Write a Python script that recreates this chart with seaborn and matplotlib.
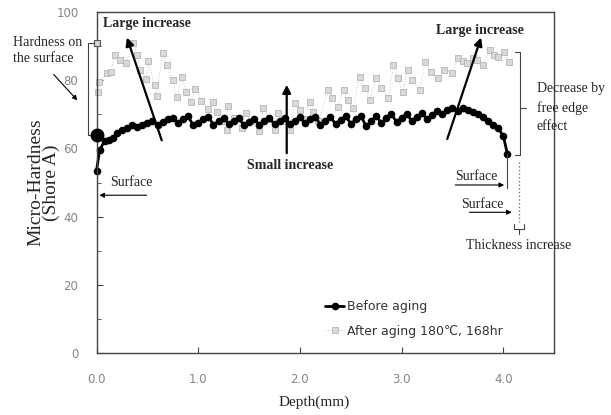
import numpy as np
import pandas as pd
import matplotlib.pyplot as plt
import seaborn as sns

# micro-hardness profile across the sheet thickness

# before aging: depth (mm) / hardness (Shore A)
before_depth = [0.00, 0.03, 0.08, 0.12, 0.16, 0.20, 0.25, 0.30, 0.35, 0.40,
                0.45, 0.50, 0.55, 0.60, 0.65, 0.70, 0.75, 0.80, 0.85, 0.90,
                0.95, 1.00, 1.05, 1.10, 1.15, 1.20, 1.25, 1.30, 1.35, 1.40,
                1.45, 1.50, 1.55, 1.60, 1.65, 1.70, 1.75, 1.80, 1.85, 1.90,
                1.95, 2.00, 2.05, 2.10, 2.15, 2.20, 2.25, 2.30, 2.35, 2.40,
                2.45, 2.50, 2.55, 2.60, 2.65, 2.70, 2.75, 2.80, 2.85, 2.90,
                2.95, 3.00, 3.05, 3.10, 3.15, 3.20, 3.25, 3.30, 3.35, 3.40,
                3.45, 3.50, 3.55, 3.60, 3.65, 3.70, 3.75, 3.80, 3.85, 3.90,
                3.95, 4.00, 4.04]
before_hard = [53.5, 59.5, 62.3, 62.6, 63.2, 64.5, 65.4, 66.0, 66.8, 66.2,
               67.0, 67.6, 68.0, 67.0, 67.8, 68.5, 69.0, 67.5, 68.5, 69.5,
               66.8, 67.5, 68.5, 69.2, 67.0, 68.0, 69.0, 67.2, 68.0, 68.8,
               66.8, 67.8, 68.6, 67.0, 68.0, 68.8, 67.2, 68.2, 69.0, 67.3,
               68.2, 69.2, 67.5, 68.5, 69.3, 67.0, 68.0, 69.2, 67.2, 68.4,
               69.5, 67.3, 68.5, 69.6, 66.5, 68.0, 69.5, 67.5, 68.8, 70.0,
               67.8, 69.0, 70.2, 68.0, 69.3, 70.5, 68.5, 69.8, 71.0, 70.0,
               71.3, 71.8, 71.0, 71.8, 71.2, 70.8, 70.2, 69.3, 68.2, 67.0,
               66.0, 63.6, 58.5]

# after aging 180C / 168hr
after_depth = [0.01, 0.02, 0.10, 0.14, 0.18, 0.23, 0.29, 0.36, 0.40, 0.43,
               0.49, 0.51, 0.57, 0.59, 0.65, 0.69, 0.75, 0.79, 0.84, 0.88,
               0.93, 0.97, 1.03, 1.10, 1.15, 1.18, 1.22, 1.28, 1.29, 1.35,
               1.43, 1.47, 1.52, 1.60, 1.64, 1.70, 1.75, 1.78, 1.85, 1.90,
               1.95, 2.00, 2.04, 2.10, 2.13, 2.18, 2.28, 2.32, 2.37, 2.43,
               2.47, 2.52, 2.59, 2.64, 2.69, 2.75, 2.80, 2.87, 2.92, 2.96,
               3.01, 3.06, 3.10, 3.18, 3.23, 3.29, 3.36, 3.42, 3.50, 3.55,
               3.60, 3.64, 3.70, 3.74, 3.80, 3.87, 3.91, 3.95, 4.01, 4.06]
after_hard = [76.5, 79.5, 82.0, 82.5, 87.5, 86.0, 85.0, 91.0, 87.5, 83.0,
              80.5, 85.5, 78.5, 75.5, 88.0, 84.5, 80.0, 75.0, 81.0, 76.5,
              73.5, 77.5, 74.0, 71.5, 73.5, 70.8, 68.0, 65.5, 72.5, 69.0,
              66.0, 70.5, 68.0, 65.0, 71.8, 68.5, 65.5, 70.5, 68.0, 65.5,
              73.3, 71.3, 68.5, 73.7, 70.8, 68.0, 77.0, 74.8, 72.2, 77.0,
              74.2, 71.8, 81.0, 77.7, 74.2, 80.6, 77.7, 74.8, 84.5, 80.6,
              76.6, 83.0, 80.0, 77.1, 85.4, 82.5, 80.6, 83.0, 82.1, 86.5,
              85.5, 85.0, 86.5, 85.9, 84.5, 88.9, 87.5, 86.9, 88.4, 85.4]

# hardness right on the surface (before, after)
surface_hard = [64.0, 91.0]

x_ticks = [0, 1, 2, 3, 4]
x_ticklabels = ['0.0', '1.0', '2.0', '3.0', '4.0']
y_ticks = [0, 20, 40, 60, 80, 100]

sns.set_style('ticks')
plt.rcParams['font.family'] = ['DejaVu Sans']
serif = 'Liberation Serif'

fig, ax = plt.subplots(figsize=(6.11, 4.15), dpi=100)
fig.subplots_adjust(left=0.158, right=0.907, bottom=0.149, top=0.971)

sns.lineplot(x=after_depth, y=after_hard, ax=ax, estimator=None, sort=False,
             color='#cccccc', linestyle=':', lw=0.7, marker='s', markersize=4,
             markerfacecolor='#d9d9d9', markeredgecolor='#ababab',
             markeredgewidth=0.5, clip_on=False, label='After aging 180℃, 168hr')
sns.lineplot(x=before_depth, y=before_hard, ax=ax, estimator=None, sort=False,
             color='black', lw=2, marker='o', markersize=5.5,
             markeredgewidth=0, clip_on=False, label='Before aging')

# surface points
ax.plot(0, surface_hard[0], 'o', color='black', ms=9, clip_on=False, zorder=5)
ax.plot(0, surface_hard[1], 's', ms=5, mfc='#d5d5d5', mec='#555555', mew=0.8,
        clip_on=False, zorder=5)

ax.set_xlim(0, 4.5)
ax.set_ylim(0, 100)
ax.set_xticks(x_ticks)
ax.set_xticklabels(x_ticklabels)
ax.set_yticks(y_ticks)
ax.set_yticks([10, 30, 50, 70, 90], minor=True)
ax.tick_params(which='both', direction='in', color='#444444', labelcolor='#858585',
               labelsize=8.5)
ax.tick_params(which='major', length=4)
ax.tick_params(which='minor', length=3)
ax.tick_params(axis='y', pad=13)
ax.tick_params(axis='x', pad=14)
for sp in ax.spines.values():
    sp.set_visible(True)
    sp.set_color('#444444')
    sp.set_linewidth(1)

ax.set_xlabel('Depth(mm)', family=serif, fontsize=11)
ax.xaxis.set_label_coords(0.475, -0.125)
ax.set_ylabel('Micro-Hardness\n(Shore A)', family=serif, fontsize=14, linespacing=0.9)
ax.yaxis.set_label_coords(-0.08, 0.5)

# legend
handles, labels = ax.get_legend_handles_labels()
leg = ax.legend(handles[::-1], labels[::-1], loc='center left',
                bbox_to_anchor=(0.5, 0.10), frameon=False, borderpad=0,
                borderaxespad=0, handlelength=1.5, handletextpad=0.2,
                labelspacing=0.9, prop={'size': 9})
for t in leg.get_texts():
    t.set_color('#333333')

big = dict(arrowstyle='-|>', color='black', lw=1.6, mutation_scale=12)
thin = dict(arrowstyle='-|>', color='black', lw=0.8, mutation_scale=7)

# increase arrows
ax.annotate('', xy=(0.29, 93.3), xytext=(0.65, 61.6), arrowprops=big)
ax.annotate('', xy=(1.87, 79.5), xytext=(1.87, 57.8), arrowprops=big)
ax.annotate('', xy=(3.79, 93.3), xytext=(3.44, 62.0), arrowprops=big)
ax.text(0.50, 96.5, 'Large increase', family=serif, fontweight='bold',
        fontsize=10, ha='center', va='center')
ax.text(1.90, 55.1, 'Small increase', family=serif, fontweight='bold',
        fontsize=10, ha='center', va='center')
ax.text(3.77, 94.7, 'Large increase', family=serif, fontweight='bold',
        fontsize=10, ha='center', va='center')

# hardness on the surface
ax.text(-0.82, 91.2, 'Hardness on', family=serif, fontsize=10, va='center')
ax.text(-0.82, 86.5, 'the surface', family=serif, fontsize=10, va='center')
ax.plot([-0.01, -0.085, -0.085, -0.01], [91.0, 91.0, 64.0, 64.0],
        color='#444444', lw=0.8, clip_on=False)
ax.annotate('', xy=(-0.17, 73.5), xytext=(-0.44, 82.3), arrowprops=thin,
            annotation_clip=False)

# decrease by free edge effect
ax.plot([4.11, 4.16, 4.16, 4.11], [88.3, 88.3, 58.1, 58.1], color='#444444',
        lw=0.8, clip_on=False)
ax.plot([4.16, 4.22], [71.8, 71.8], color='#444444', lw=0.8, clip_on=False)
ax.text(4.33, 77.7, 'Decrease by', family=serif, fontsize=10, va='center')
ax.text(4.33, 71.8, 'free edge', family=serif, fontsize=10, va='center')
ax.text(4.33, 66.3, 'effect', family=serif, fontsize=10, va='center')

# surface markers
ax.plot([0.005, 0.005], [44, 53], ls=':', color='#777777', lw=1)
ax.annotate('', xy=(0.0, 46.3), xytext=(0.52, 46.3), arrowprops=thin,
            annotation_clip=False)
ax.text(0.13, 49.9, 'Surface', family=serif, fontsize=10, va='center')

ax.plot([4.035, 4.035], [58.5, 48.4], color='#444444', lw=0.8)
ax.annotate('', xy=(4.035, 49.3), xytext=(3.50, 49.3), arrowprops=thin)
ax.text(3.73, 51.9, 'Surface', family=serif, fontsize=10, ha='center', va='center')

ax.plot([4.155, 4.155], [56.0, 38.5], ls=':', color='#777777', lw=1)
ax.annotate('', xy=(4.11, 41.3), xytext=(3.64, 41.3), arrowprops=thin)
ax.text(3.79, 43.6, 'Surface', family=serif, fontsize=10, ha='center', va='center')

# thickness increase brace
ax.plot([4.105, 4.105, 4.205, 4.205], [37.8, 36.4, 36.4, 37.8], color='#444444',
        lw=0.8, clip_on=False)
ax.plot([4.155, 4.155], [36.4, 35.0], color='#444444', lw=0.8, clip_on=False)
ax.text(4.15, 31.7, 'Thickness increase', family=serif, fontsize=10,
        ha='center', va='center')

plt.savefig('out.png', dpi=100)
